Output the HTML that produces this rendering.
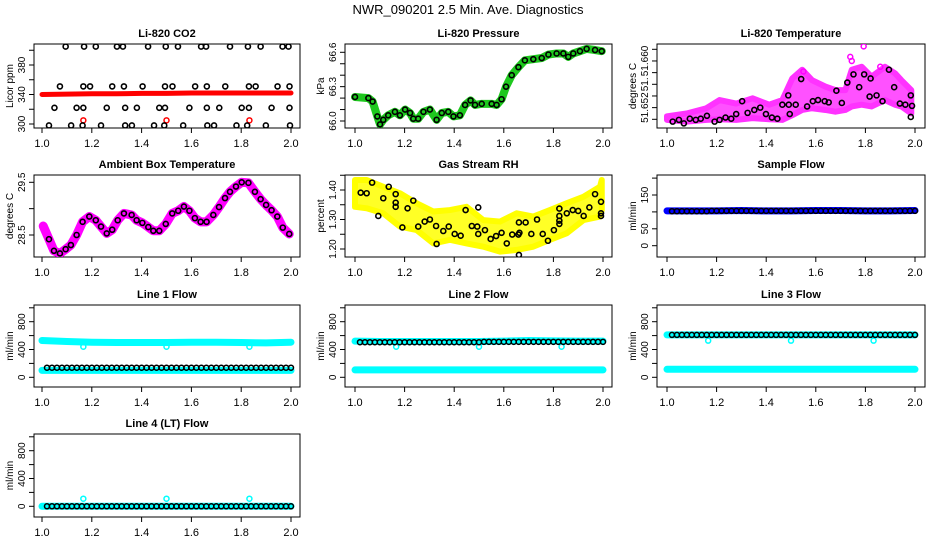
<!DOCTYPE html>
<html><head><meta charset="utf-8"><style>
body{margin:0;background:#fff}
svg{display:block;font-family:"Liberation Sans",Arial,sans-serif}
</style></head><body>
<svg id="chart" width="936" height="540" viewBox="0 0 936 540" xmlns="http://www.w3.org/2000/svg">
<rect width="936" height="540" fill="#fff"/>
<text x="468" y="14" text-anchor="middle" font-size="13">NWR_090201  2.5 Min. Ave. Diagnostics</text>
</svg>
<script>
// ---------- data ----------
const xTicks=[1.0,1.2,1.4,1.6,1.8,2.0];
const xTickLabels=["1.0","1.2","1.4","1.6","1.8","2.0"];
const flowTimes=[1.02,1.04,1.06,1.08,1.10,1.12,1.14,1.16,1.18,1.20,1.22,1.24,1.26,1.28,1.30,1.32,1.34,1.36,1.38,1.40,1.42,1.44,1.46,1.48,1.50,1.52,1.54,1.56,1.58,1.60,1.62,1.64,1.66,1.68,1.70,1.72,1.74,1.76,1.78,1.80,1.82,1.84,1.86,1.88,1.90,1.92,1.94,1.96,1.98,2.00];
const bandTimes=[1.0,1.1,1.2,1.3,1.4,1.5,1.6,1.7,1.8,1.9,2.0];
const dipTimes=[1.166,1.5,1.833];

// CO2
const co2TopX=[1.095,1.169,1.216,1.301,1.325,1.426,1.497,1.546,1.639,1.659,1.755,1.827,1.878,1.966,1.99];
const co2TopY=[405,405,405,405,405,405,405,405,405,405,405,405,405,405,405];
const co2HiX=[1.072,1.166,1.193,1.282,1.329,1.404,1.494,1.524,1.615,1.662,1.736,1.831,1.858,1.946,1.994];
const co2HiY=[351,351,351,351,351,351,351,351,351,351,351,351,351,351,351];
const co2MidX=[1.05,1.139,1.166,1.26,1.334,1.381,1.471,1.494,1.592,1.662,1.712,1.802,1.831,1.922,1.994];
const co2MidY=[322,322,322,322,322,322,322,322,322,322,322,322,322,322,322];
const co2LowX=[1.028,1.117,1.163,1.237,1.334,1.361,1.45,1.491,1.567,1.664,1.691,1.781,1.824,1.899,1.996];
const co2LowY=[298,298,298,298,298,298,298,298,298,298,298,298,298,298,298];
const co2RedY=[340,340.5,341,341,341.5,341.5,342,342,342,342,342];
const co2RedOutY=[305,305,305];

// Pressure
const presX=[1.000,1.054,1.071,1.090,1.101,1.114,1.134,1.161,1.181,1.202,1.222,1.235,1.255,1.276,1.302,1.329,1.350,1.376,1.397,1.423,1.444,1.466,1.484,1.511,1.551,1.571,1.591,1.609,1.632,1.659,1.685,1.719,1.753,1.780,1.813,1.840,1.860,1.880,1.907,1.934,1.968,1.995];
const presY=[66.21,66.20,66.17,66.04,65.97,66.01,66.05,66.08,66.05,66.10,66.07,66.02,66.02,66.08,66.10,66.01,66.07,66.08,66.04,66.05,66.14,66.18,66.14,66.15,66.15,66.14,66.19,66.30,66.40,66.47,66.53,66.54,66.55,66.58,66.59,66.59,66.56,66.59,66.61,66.63,66.62,66.61];

// Li-820 temperature
const tBandX=[1.0,1.079,1.159,1.212,1.279,1.345,1.412,1.465,1.505,1.545,1.585,1.639,1.679,1.719,1.745,1.785,1.825,1.879,1.919,1.945,1.985];
const tBandLo=[51.6439,51.6436,51.6439,51.6440,51.6439,51.6442,51.6440,51.6439,51.6447,51.6456,51.6459,51.6456,51.6453,51.6456,51.6462,51.6465,51.6462,51.6473,51.6465,51.6462,51.6450];
const tBandHi=[51.6445,51.6450,51.6459,51.6473,51.6467,51.6476,51.6465,51.6473,51.6510,51.6525,51.6507,51.6496,51.6490,51.6490,51.6525,51.6530,51.6513,51.6530,51.6519,51.6507,51.6490];
const tOutX=[1.793,1.739,1.745,1.86,1.55];
const tOutY=[51.6565,51.6547,51.6540,51.6530,51.6522];
const tBlackX=[1.023,1.048,1.068,1.092,1.116,1.136,1.161,1.192,1.212,1.236,1.259,1.279,1.303,1.325,1.352,1.376,1.399,1.423,1.445,1.465,1.489,1.491,1.495,1.519,1.541,1.565,1.588,1.609,1.636,1.652,1.683,1.705,1.727,1.752,1.775,1.795,1.817,1.821,1.845,1.869,1.895,1.916,1.939,1.961,1.983,1.988,1.983];
const tBlackY=[51.6436,51.6439,51.6433,51.6441,51.6439,51.6441,51.6446,51.6436,51.6439,51.6443,51.6441,51.6449,51.6471,51.6451,51.6456,51.6460,51.6449,51.6443,51.6441,51.6465,51.6481,51.6465,51.6449,51.6465,51.6509,51.6462,51.6471,51.6473,51.6471,51.6469,51.6489,51.6468,51.6503,51.6517,51.6495,51.6517,51.6479,51.6510,51.6481,51.6471,51.6525,51.6495,51.6467,51.6465,51.6481,51.6463,51.6444];

// Ambient box temperature
const ambX=[1.005,1.028,1.048,1.072,1.095,1.116,1.139,1.163,1.190,1.216,1.237,1.260,1.282,1.304,1.329,1.360,1.380,1.403,1.427,1.447,1.471,1.497,1.523,1.547,1.570,1.592,1.614,1.637,1.661,1.688,1.711,1.735,1.755,1.779,1.802,1.829,1.855,1.878,1.900,1.922,1.945,1.967,1.993];
const ambY=[28.67,28.42,28.20,28.15,28.23,28.31,28.50,28.75,28.85,28.78,28.66,28.53,28.60,28.78,28.91,28.88,28.78,28.73,28.65,28.58,28.58,28.71,28.91,28.96,29.04,28.96,28.82,28.75,28.75,28.88,29.03,29.20,29.32,29.42,29.50,29.49,29.32,29.18,29.07,28.97,28.85,28.64,28.52];

// Gas stream RH
const rhBandX=[1.0,1.047,1.114,1.181,1.249,1.316,1.383,1.450,1.517,1.585,1.652,1.719,1.786,1.853,1.921,1.988,1.995];
const rhBandLo=[1.343,1.338,1.321,1.276,1.264,1.219,1.231,1.219,1.208,1.191,1.197,1.208,1.231,1.253,1.298,1.310,1.332];
const rhBandHi=[1.434,1.434,1.411,1.389,1.355,1.327,1.332,1.343,1.298,1.293,1.321,1.310,1.332,1.355,1.377,1.411,1.434];
const rhBlackX=[1.023,1.047,1.069,1.094,1.114,1.136,1.164,1.164,1.164,1.191,1.212,1.235,1.255,1.281,1.302,1.327,1.329,1.356,1.378,1.402,1.426,1.446,1.471,1.493,1.497,1.497,1.524,1.547,1.569,1.591,1.612,1.634,1.659,1.661,1.663,1.661,1.688,1.711,1.734,1.757,1.778,1.802,1.824,1.824,1.824,1.824,1.854,1.878,1.900,1.922,1.945,1.968,1.992,1.992,1.992];
const rhBlackY=[1.391,1.389,1.425,1.312,1.372,1.411,1.386,1.357,1.343,1.273,1.338,1.364,1.276,1.293,1.300,1.278,1.217,1.261,1.276,1.251,1.245,1.332,1.278,1.276,1.341,1.251,1.264,1.234,1.244,1.255,1.219,1.249,1.249,1.180,1.255,1.290,1.290,1.251,1.300,1.251,1.228,1.264,1.337,1.312,1.296,1.285,1.321,1.332,1.329,1.312,1.341,1.386,1.360,1.312,1.321];

// Sample flow
const sampleBlue=[103,103,103,104,103,103,104,104,103,103,104];
const sampleBlack=[102,102,102,102,102,102,102,102,103,103,103,103,103,103,103,103,103,103,103,103,103,103,103,103,103,103,103,103,103,103,103,103,103,103,103,103,103,103,103,103,103,103,103,103,103,103,103,103,103,103];

// Line flows
const line1CyanHi=[530,515,505,500,500,500,505,505,500,495,505];
const line1CyanLo=[100,100,100,100,100,100,100,100,100,100,100];
const line1Dips=[440,440,440];
const line1Black=[138,138,138,138,138,138,138,138,138,138,138,138,138,138,138,138,138,138,138,138,138,138,138,138,138,138,138,138,138,138,138,138,138,138,138,138,138,138,138,138,138,138,138,138,138,138,138,138,138,138];
const line2CyanHi=[520,515,515,515,515,515,520,530,525,520,520];
const line2CyanLo=[106,106,106,106,106,106,106,106,106,106,106];
const line2Dips=[440,440,440];
const line2Black=[505,505,505,505,505,505,505,505,505,505,505,505,505,505,505,505,505,505,505,505,505,505,505,505,505,510,510,510,510,510,510,510,510,510,510,510,510,510,510,510,510,510,510,510,510,510,510,510,510,510];
const line3CyanHi=[610,610,610,610,610,610,610,610,610,610,610];
const line3CyanLo=[115,115,115,115,115,115,115,115,115,115,115];
const line3Dips=[527,527,527];
const line3Black=[610,610,610,610,610,610,610,610,610,610,610,610,610,610,610,610,610,610,610,610,610,610,610,610,610,610,610,610,610,610,610,610,610,610,610,610,610,610,610,610,610,610,610,610,610,610,610,610,610,610];
const line4Cyan=[0,0,0,0,0,0,0,0,0,0,0];
const line4Spikes=[109,109,109];
const line4Black=[0,0,0,0,0,0,0,0,0,0,0,0,0,0,0,0,0,0,0,0,0,0,0,0,0,0,0,0,0,0,0,0,0,0,0,0,0,0,0,0,0,0,0,0,0,0,0,0,0,0];

// ---------- drawing ----------
const NS="http://www.w3.org/2000/svg";
const svg=document.getElementById('chart');
function el(tag,attrs,parent){const e=document.createElementNS(NS,tag);for(const k in attrs)e.setAttribute(k,attrs[k]);(parent||svg).appendChild(e);return e;}
const COLS=[{b0:34,b1:300,x1:42,x2:291},{b0:345,b1:612,x1:355,x2:603},{b0:657,b1:925,x1:667,x2:915}];
const ROWS=[[44,128],[175,257],[305,387],[434,517]];

function panel(id,col,row,vA,pA,vB,pB,ticks,labels,ylab,title){
  const C=COLS[col],R=ROWS[row];
  const g=el('g',{});
  
  
  const sx=v=>C.x1+(v-1)*(C.x2-C.x1);
  const sy=v=>pA+(v-vA)*(pB-pA)/(vB-vA);
  const t=el('text',{x:(C.b0+C.b1)/2,y:R[0]-7,'text-anchor':'middle','font-size':11,'font-weight':'bold'},g);
  t.textContent=title;
  
  
  const box=el('rect',{x:C.b0,y:R[0],width:C.b1-C.b0,height:R[1]-R[0],fill:'none',stroke:'#000','stroke-width':1},g);
  
  
  const xa=el('g',{},g);
  
  
  xTicks.forEach((v,i)=>{
    el('line',{x1:sx(v),x2:sx(v),y1:R[1],y2:R[1]+5,stroke:'#000'},xa);
    const l=el('text',{x:sx(v),y:R[1]+19,'text-anchor':'middle','font-size':11},xa);
    l.textContent=xTickLabels[i];
    
    
  });
  const ya=el('g',{},g);
  
  
  const ax=C.b0;
  ticks.forEach((v,i)=>{
    const p=sy(v); if(p<R[0]-1||p>R[1]+1)return;
    el('line',{x1:ax-5,x2:ax,y1:p,y2:p,stroke:'#000'},ya);
    if(labels[i]){
      const l=el('text',{x:0,y:0,'text-anchor':'middle','font-size':10,transform:`translate(${C.b0-9},${p}) rotate(-90)`},ya);
      l.textContent=labels[i];
      
      
    }
  });
  const yl=el('text',{x:0,y:0,'text-anchor':'middle','font-size':10,transform:`translate(${C.b0-21},${(R[0]+R[1])/2}) rotate(-90)`},g);
  yl.textContent=ylab;
  
  
  const clipId='clip-'+id;
  const cp=el('clipPath',{id:clipId},svg);
  el('rect',{x:C.b0,y:R[0],width:C.b1-C.b0,height:R[1]-R[0]},cp);
  const marks=el('g',{'clip-path':`url(#${clipId})`},g);
  
  
  return {sx,sy,g:marks};
}
function pts(P,xs,ys,color,r,sw,name){
  const g=el('g',{},P.g);
  
  
  xs.forEach((x,i)=>{
    const c=el('circle',{cx:P.sx(x),cy:P.sy(ys[i]),r:r,fill:'none',stroke:color,'stroke-width':sw},g);
    
    
  });
}
function band(P,xs,ys,color,w,name){
  const p=el('polyline',{points:xs.map((x,i)=>P.sx(x)+','+P.sy(ys[i])).join(' '),fill:'none',stroke:color,'stroke-width':w,'stroke-linejoin':'round','stroke-linecap':'round'},P.g);
  
  
}
function area(P,xs,lo,hi,color,name){
  const up=xs.map((x,i)=>P.sx(x)+','+P.sy(hi[i]));
  const dn=xs.map((x,i)=>P.sx(x)+','+P.sy(lo[i])).reverse();
  const p=el('polygon',{points:up.concat(dn).join(' '),fill:color,'fill-opacity':0.85,stroke:color,'stroke-width':6,'stroke-linejoin':'round'},P.g);
  
  
}

// CO2
let P=panel('co2',0,0,300,124,380,65,[300,320,340,360,380,400],["300","","340","","380",""],"Licor ppm","Li-820 CO2");
band(P,bandTimes,co2RedY,'#f00',5,'co2-red-series');
pts(P,dipTimes,co2RedOutY,'#f00',2.5,1.5,'co2-red-outlier');
pts(P,co2TopX,co2TopY,'#000',2.5,1.6,'co2-black-405');
pts(P,co2HiX,co2HiY,'#000',2.5,1.6,'co2-black-350');
pts(P,co2MidX,co2MidY,'#000',2.5,1.6,'co2-black-322');
pts(P,co2LowX,co2LowY,'#000',2.5,1.6,'co2-black-298');

// Pressure
P=panel('pressure',1,0,66.0,121,66.6,52.3,[66.0,66.1,66.2,66.3,66.4,66.5,66.6],["66.0","","","66.3","","","66.6"],"kPa","Li-820 Pressure");
band(P,presX,presY,'#1ec81e',8,'pressure-green-series');
pts(P,presX,presY,'#000',2.5,1.6,'pressure-black');

// Temperature
P=panel('temperature',2,0,51.644,119.3,51.656,49.3,[51.644,51.646,51.648,51.650,51.652,51.654,51.656],["","51.652","","51.","","51.660",""],"degrees C","Li-820 Temperature");
area(P,tBandX,tBandLo,tBandHi,'#f3f','temperature-magenta-cloud');
pts(P,tOutX,tOutY,'#f0f',2.5,1.5,'temperature-magenta-outlier');
pts(P,tBlackX,tBlackY,'#000',2.5,1.6,'temperature-black');

// Ambient
P=panel('ambient',0,1,28.5,235,29.5,182.3,[28.0,28.5,29.0,29.5],["","28.5","","29.5"],"degrees C","Ambient Box Temperature");
band(P,ambX,ambY,'#f0f',9,'ambient-magenta-series');
pts(P,ambX.slice(1),ambY.slice(1),'#000',2.5,1.6,'ambient-black');

// RH
P=panel('rh',1,1,1.20,249,1.40,190,[1.20,1.25,1.30,1.35,1.40,1.45],["1.20","","1.30","","1.40",""],"percent","Gas Stream RH");
area(P,rhBandX,rhBandLo,rhBandHi,'#ff0','rh-yellow-cloud');
pts(P,rhBlackX,rhBlackY,'#000',2.5,1.6,'rh-black');

// Sample flow
P=panel('sample-flow',2,1,0,245.7,150,195,[0,50,100,150,200],["0","50","","150",""],"ml/min","Sample Flow");
band(P,bandTimes,sampleBlue,'#00f',7,'sample-flow-blue-series');
pts(P,flowTimes,sampleBlack,'#000',2.5,1.5,'sample-flow-black');

const flowTicks=[0,200,400,600,800,1000], flowLabels=["0","","400","","800",""];
// Line 1
P=panel('line1',0,2,0,377.3,800,321.7,flowTicks,flowLabels,"ml/min","Line 1 Flow");
band(P,bandTimes,line1CyanHi,'#0ff',7,'line1-cyan-upper');
band(P,bandTimes,line1CyanLo,'#0ff',7,'line1-cyan-lower');
pts(P,dipTimes,line1Dips,'#0ff',2.5,1.5,'line1-cyan-dip');
pts(P,flowTimes,line1Black,'#000',2.5,1.5,'line1-black');
// Line 2
P=panel('line2',1,2,0,377.3,800,321.7,flowTicks,flowLabels,"ml/min","Line 2 Flow");
band(P,bandTimes,line2CyanHi,'#0ff',7,'line2-cyan-upper');
band(P,bandTimes,line2CyanLo,'#0ff',7,'line2-cyan-lower');
pts(P,dipTimes,line2Dips,'#0ff',2.5,1.5,'line2-cyan-dip');
pts(P,flowTimes,line2Black,'#000',2.5,1.5,'line2-black');
// Line 3
P=panel('line3',2,2,0,377.3,800,321.7,flowTicks,flowLabels,"ml/min","Line 3 Flow");
band(P,bandTimes,line3CyanHi,'#0ff',7,'line3-cyan-upper');
band(P,bandTimes,line3CyanLo,'#0ff',7,'line3-cyan-lower');
pts(P,dipTimes,line3Dips,'#0ff',2.5,1.5,'line3-cyan-dip');
pts(P,flowTimes,line3Black,'#000',2.5,1.5,'line3-black');
// Line 4
P=panel('line4',0,3,0,506.3,800,450.7,flowTicks,flowLabels,"ml/min","Line 4 (LT) Flow");
band(P,bandTimes,line4Cyan,'#0ff',7,'line4-cyan-series');
pts(P,dipTimes,line4Spikes,'#0ff',2.5,1.5,'line4-cyan-spike');
pts(P,flowTimes,line4Black,'#000',2.5,1.5,'line4-black');
</script>
</body></html>
